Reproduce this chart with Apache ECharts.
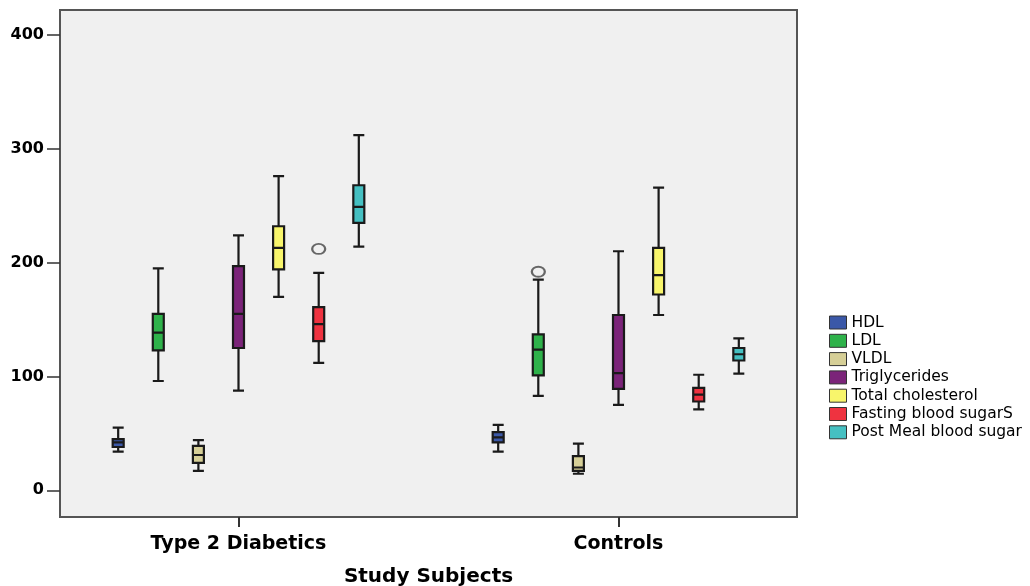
<!DOCTYPE html>
<html>
<head>
<meta charset="utf-8">
<script src="https://cdn.jsdelivr.net/npm/echarts@6/dist/echarts.min.js"></script>
<style>
  html, body { margin: 0; padding: 0; background: #fff; }
  #chart { width: 1030px; height: 586px; }
</style>
</head>
<body>
<div id="chart"></div>
<script>
// groups on the x axis and the measures drawn inside each group
var groups = ['Type 2 Diabetics', 'Controls'];
var measures = ['HDL', 'LDL', 'VLDL', 'Triglycerides', 'Total cholesterol', 'Fasting blood sugarS', 'Post Meal blood sugar'];

// five number summaries [min, Q1, median, Q3, max], one row per measure
var diabetics = [
  [34, 38, 42, 45, 55],
  [96, 123, 138.5, 155, 195],
  [17, 24, 31, 39, 44],
  [87.5, 125, 155, 197, 224],
  [170, 194, 213, 232, 276],
  [112, 131, 146, 161, 191],
  [214, 235, 249, 268, 312]
];
var controls = [
  [34, 42, 46.5, 51, 57.5],
  [83, 101, 123.5, 137, 185],
  [14.5, 17, 20, 30, 41],
  [75, 89, 103, 154, 210],
  [154, 172, 189, 213, 266],
  [71, 78, 84, 90, 101.5],
  [102.5, 114, 119.5, 125, 133.5]
];

// outliers: group index, measure index, value
var outlierGroup = [0, 1];
var outlierMeasure = [5, 1];
var outlierValue = [212, 192];

var yTicks = [0, 100, 200, 300, 400];

var colors = ['#3b58a8', '#2eb24a', '#d6cf97', '#7b2479', '#f8f56b', '#ef3340', '#45c0c2'];

var SLOT = 0.1055; // spacing between boxes of one group, in x units

var chart = echarts.init(document.getElementById('chart'));

var series = measures.map(function (name, i) {
  return {
    name: name,
    type: 'boxplot',
    xAxisIndex: 1,
    yAxisIndex: 1,
    boxWidth: [11, 11],
    itemStyle: { color: colors[i], borderColor: '#1a1a1a', borderWidth: 2.2 },
    emphasis: { disabled: true },
    data: [
      [0].concat(diabetics[i]),
      [1].concat(controls[i])
    ]
  };
});

series.push({
  type: 'scatter',
  xAxisIndex: 1,
  yAxisIndex: 1,
  symbol: 'circle',
  symbolSize: [13, 10],
  itemStyle: { color: '#f0f0f0', borderColor: '#444', borderWidth: 2 },
  emphasis: { disabled: true },
  data: outlierValue.map(function (v, k) {
    return [outlierGroup[k] + (outlierMeasure[k] - 3) * SLOT, v];
  })
});

var option = {
  animation: false,
  textStyle: { fontFamily: 'DejaVu Sans' },
  grid: [
    { left: 60, right: 233, top: 10, bottom: 69, show: true, outerBoundsMode: 'none',
      backgroundColor: '#f0f0f0', borderColor: '#555', borderWidth: 2 },
    { left: 89.5, right: 262.5, top: 10, bottom: 69, outerBoundsMode: 'none' }
  ],
  xAxis: [
    { gridIndex: 0, type: 'value', min: 0, max: 1, show: false },
    {
      gridIndex: 1,
      type: 'value',
      min: -0.3921,
      max: 1.3921,
      splitLine: { show: false },
      axisLine: { show: false, onZero: false },
      axisTick: { show: true, length: 10, customValues: [0, 1],
        lineStyle: { color: '#333', width: 2 } },
      axisLabel: {
        customValues: [0, 1],
        margin: 18,
        color: '#000',
        fontWeight: 'bold',
        fontSize: 19,
        formatter: function (v) { return groups[Math.round(v)]; }
      },
      name: 'Study Subjects',
      nameLocation: 'middle',
      nameGap: 50,
      nameTextStyle: { color: '#000', fontWeight: 'bold', fontSize: 20 }
    }
  ],
  yAxis: [
    {
      gridIndex: 0,
      type: 'value',
      min: -23.5,
      max: 422,
      splitLine: { show: false },
      axisLine: { show: false, onZero: false },
      axisTick: { show: true, length: 13, customValues: yTicks,
        lineStyle: { color: '#333', width: 1.5 } },
      axisLabel: { customValues: yTicks, margin: 16, color: '#000',
        fontWeight: 'bold', fontSize: 16 }
    },
    { gridIndex: 1, type: 'value', min: -23.5, max: 422, show: false }
  ],
  legend: {
    orient: 'vertical',
    left: 829,
    top: 314,
    padding: 0,
    itemWidth: 17,
    itemHeight: 13,
    itemGap: 1.3,
    icon: 'rect',
    selectedMode: false,
    data: measures.map(function (m, i) {
      return { name: m, itemStyle: { color: colors[i], borderColor: '#333', borderWidth: 1 } };
    }),
    textStyle: { color: '#000', fontSize: 15.5, lineHeight: 17, fontFamily: 'DejaVu Sans' }
  },
  series: series
};

chart.setOption(option);
</script>
</body>
</html>
